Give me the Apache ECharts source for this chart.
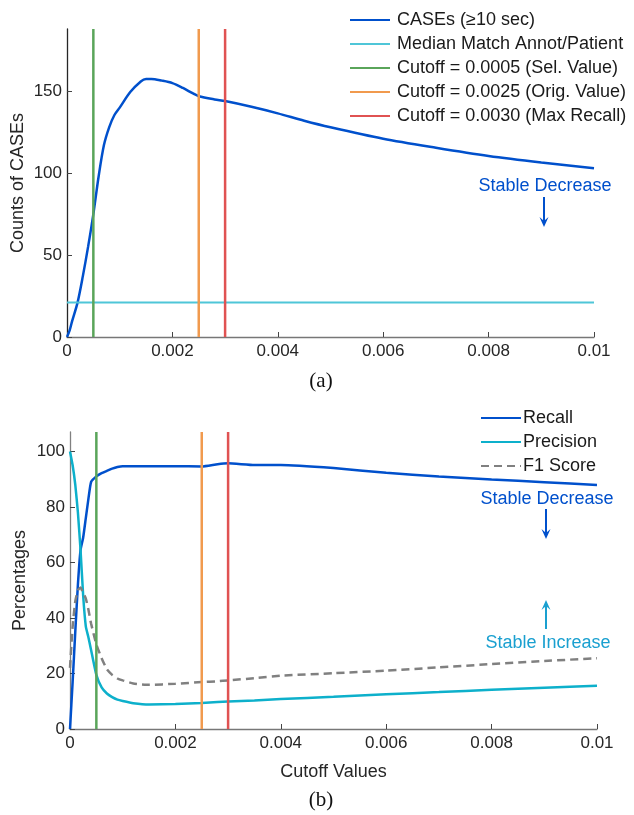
<!DOCTYPE html>
<html>
<head>
<meta charset="utf-8">
<script src="https://cdn.jsdelivr.net/npm/echarts@6/dist/echarts.min.js"></script>
<style>
  html, body { margin: 0; padding: 0; background: #fff; }
  #chart { width: 634px; height: 815px; }
</style>
</head>
<body>
<div id="chart"></div>
<script>
// panel (a) data
const xA = [0, 0.00005, 0.0001, 0.0002, 0.0003, 0.0004, 0.0005, 0.0006, 0.0007, 0.0008, 0.0009, 0.001,
  0.0012, 0.0014, 0.0015, 0.0016, 0.0018, 0.002, 0.0022, 0.0024, 0.0025, 0.0028, 0.003, 0.0035,
  0.004, 0.0045, 0.005, 0.006, 0.007, 0.008, 0.009, 0.01];
const cases = [0, 4, 10, 21, 37, 55, 75, 98, 117, 128, 135.5, 140,
  149.5, 156, 157.5, 157.5, 156.5, 155, 152, 148.5, 147, 145, 144, 140.5,
  136.5, 132, 128, 121, 115.5, 110.5, 106.5, 103];
const medianMatch = 21;

// panel (b) data
const xB = [0, 0.00005, 0.0001, 0.00015, 0.0002, 0.00025, 0.0003, 0.00035, 0.0004, 0.0005, 0.0006, 0.0007,
  0.0008, 0.0009, 0.001, 0.0012, 0.0015, 0.002, 0.0025, 0.0028, 0.003, 0.0035, 0.004, 0.005,
  0.006, 0.007, 0.008, 0.009, 0.01];
const recall = [0, 17, 35, 52, 64.5, 69, 76, 83, 89, 91, 92.2, 93,
  93.8, 94.4, 94.7, 94.7, 94.7, 94.7, 94.6, 95.4, 95.7, 95.1, 95.1, 94,
  92.3, 91, 89.9, 88.9, 87.9];
const precision = [100, 95, 88, 78, 64.5, 48, 37, 33, 28.5, 19.5, 15, 12.8,
  11.5, 10.6, 10.1, 9.3, 8.8, 9.0, 9.4, 9.7, 9.9, 10.3, 10.8, 11.6,
  12.5, 13.3, 14.1, 14.9, 15.6];
const f1 = [22, 37, 46, 50, 51, 49, 47, 43, 38, 30.5, 25.5, 21.5,
  19.5, 18.2, 17.5, 16.4, 15.9, 16.3, 16.9, 17.2, 17.5, 18.3, 19.2, 20.1,
  21, 22.2, 23.4, 24.5, 25.5];

const cutoffs = [0.0005, 0.0025, 0.003];
const cutoffNames = ['Cutoff = 0.0005 (Sel. Value)', 'Cutoff = 0.0025 (Orig. Value)', 'Cutoff = 0.0030 (Max Recall)'];
const cutoffColors = ['#5AA55A', '#F19A4E', '#E05252'];
const xTicks = [0, 0.002, 0.004, 0.006, 0.008, 0.01];
const yTicksA = [0, 50, 100, 150];
const yTicksB = [0, 20, 40, 60, 80, 100];
const yMaxA = 188;
const yMaxB = 107;

const blue = '#0050CC';
const font = 'Liberation Sans, Arial, Helvetica, sans-serif';
const chart = echarts.init(document.getElementById('chart'));

function pairs(xs, ys) { return xs.map((x, i) => [x, ys[i]]); }

function xAxis(idx, name) {
  return {
    type: 'value', gridIndex: idx, min: 0, max: 0.01, interval: 0.002,
    name: name, nameLocation: 'middle', nameGap: 34,
    nameTextStyle: { fontFamily: font, fontSize: 18, color: '#262626' },
    axisLine: { lineStyle: { color: '#777', width: 1.3 } },
    axisTick: { inside: true, length: 5, lineStyle: { color: '#444' } },
    axisLabel: { fontFamily: font, fontSize: 17, color: '#262626', margin: 6,
      formatter: v => String(+v.toFixed(3)) },
    splitLine: { show: false }
  };
}
function yAxis(idx, max, ticks, name, lineColor, gap) {
  return {
    type: 'value', gridIndex: idx, min: 0, max: max,
    name: name, nameLocation: 'middle', nameGap: gap, nameMoveOverlap: false,
    nameTextStyle: { fontFamily: font, fontSize: 18, color: '#262626' },
    axisLine: { show: true, lineStyle: { color: lineColor, width: 1.3 } },
    axisTick: { show: true, inside: true, length: 5, customValues: ticks, lineStyle: { color: '#444' } },
    axisLabel: { fontFamily: font, fontSize: 17, color: '#262626', margin: 5, customValues: ticks },
    splitLine: { show: false }
  };
}

const series = [
  { name: 'CASEs (≥10 sec)', type: 'line', xAxisIndex: 0, yAxisIndex: 0, data: pairs(xA, cases),
    smooth: 0.3, symbol: 'none', lineStyle: { color: blue, width: 2.5 }, itemStyle: { color: blue } },
  { name: 'Median Match Annot/Patient', type: 'line', xAxisIndex: 0, yAxisIndex: 0,
    data: [[0, medianMatch], [0.01, medianMatch]], symbol: 'none',
    lineStyle: { color: '#4FC6D8', width: 2 }, itemStyle: { color: '#4FC6D8' } }
];
cutoffs.forEach((c, i) => {
  series.push({ name: cutoffNames[i], type: 'line', xAxisIndex: 0, yAxisIndex: 0,
    data: [[c, 0], [c, yMaxA]], symbol: 'none',
    lineStyle: { color: cutoffColors[i], width: 2.5 }, itemStyle: { color: cutoffColors[i] } });
});
series.push(
  { name: 'Recall', type: 'line', xAxisIndex: 1, yAxisIndex: 1, data: pairs(xB, recall),
    smooth: 0.15, symbol: 'none', lineStyle: { color: blue, width: 2.5 }, itemStyle: { color: blue } },
  { name: 'Precision', type: 'line', xAxisIndex: 1, yAxisIndex: 1, data: pairs(xB, precision),
    smooth: 0.15, symbol: 'none', lineStyle: { color: '#0DB0CB', width: 2.5 }, itemStyle: { color: '#0DB0CB' } },
  { name: 'F1 Score', type: 'line', xAxisIndex: 1, yAxisIndex: 1, data: pairs(xB, f1),
    smooth: 0.15, symbol: 'none', lineStyle: { color: '#808080', width: 2.5, type: [8, 5] }, itemStyle: { color: '#808080' } }
);
cutoffs.forEach((c, i) => {
  series.push({ name: cutoffNames[i] + ' ', type: 'line', xAxisIndex: 1, yAxisIndex: 1,
    data: [[c, 0], [c, yMaxB]], symbol: 'none',
    lineStyle: { color: cutoffColors[i], width: 2.5 }, itemStyle: { color: cutoffColors[i] } });
});

function arrow(x, y1, y2, color) {
  const d = y2 > y1 ? -1 : 1;
  return [
    { type: 'line', shape: { x1: x, y1: y1, x2: x, y2: y2 + d * 3 }, style: { stroke: color, lineWidth: 2 } },
    { type: 'polygon', shape: { points: [[x - 4.5, y2 + d * 10], [x, y2], [x + 4.5, y2 + d * 10], [x, y2 + d * 6]] },
      style: { fill: color } }
  ];
}
function label(text, x, y, color) {
  return { type: 'text', x: x, y: y, style: { text: text, fill: color, font: '18px ' + font,
    textAlign: 'center', textVerticalAlign: 'middle' } };
}

const legendBase = {
  orient: 'vertical', itemWidth: 40, itemHeight: 14, itemGap: 4,
  itemStyle: { opacity: 0 },
  textStyle: { fontFamily: font, fontSize: 18, color: '#1a1a1a', lineHeight: 20 }
};

chart.setOption({
  animation: false,
  grid: [
    { left: 67, top: 29, width: 527, height: 308 },
    { left: 70, top: 432, width: 527, height: 297 }
  ],
  xAxis: [xAxis(0, ''), xAxis(1, 'Cutoff Values')],
  yAxis: [yAxis(0, yMaxA, yTicksA, 'Counts of CASEs', '#262626', 40), yAxis(1, yMaxB, yTicksB, 'Percentages', '#808080', 41)],
  legend: [
    Object.assign({}, legendBase, {
      data: ['CASEs (≥10 sec)', 'Median Match Annot/Patient'].concat(cutoffNames),
      left: 344, top: 5,
      textStyle: Object.assign({}, legendBase.textStyle, { padding: [0, 0, 0, 2] }) }),
    Object.assign({}, legendBase, {
      data: ['Recall', 'Precision', 'F1 Score'],
      left: 475, top: 403,
      textStyle: Object.assign({}, legendBase.textStyle, { padding: [0, 0, 0, -3] }) })
  ],
  graphic: [
    label('Stable Decrease', 545, 186, blue),
    ...arrow(544, 197, 227, blue),
    label('Stable Decrease', 547, 499, blue),
    ...arrow(546, 509, 539, blue),
    label('Stable Increase', 548, 643, '#1AA0D0'),
    ...arrow(546, 629, 600, '#1AA0D0'),
    { type: 'text', x: 321, y: 381, style: { text: '(a)', fill: '#111', font: '21px Liberation Serif, Times New Roman, serif',
      textAlign: 'center', textVerticalAlign: 'middle' } },
    { type: 'text', x: 321, y: 800, style: { text: '(b)', fill: '#111', font: '21px Liberation Serif, Times New Roman, serif',
      textAlign: 'center', textVerticalAlign: 'middle' } }
  ],
  series: series
});
</script>
</body>
</html>
